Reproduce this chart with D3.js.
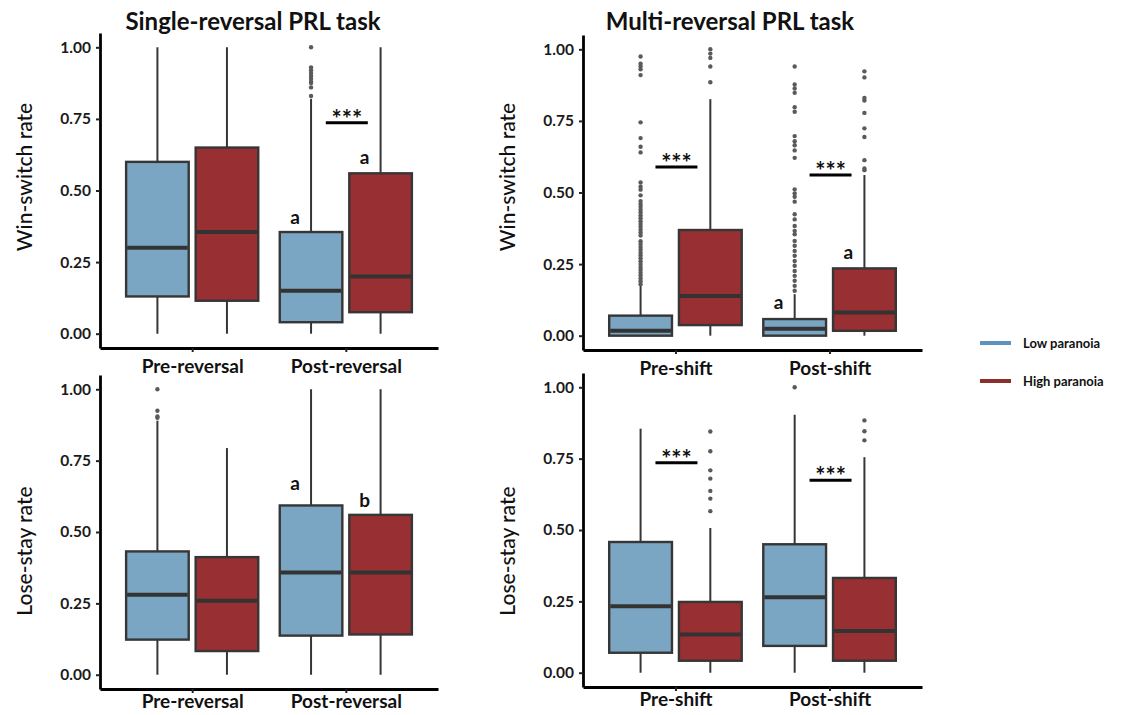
<!DOCTYPE html>
<html>
<head>
<meta charset="utf-8">
<script src="https://d3js.org/d3.v7.min.js"></script>
<style>
  body { margin: 0; background: #fff; }
  text { font-family: Lato, "Open Sans", sans-serif; }
</style>
</head>
<body>
<svg id="chart" width="1126" height="715"></svg>
<script>
// ---- data ----
const series = ["Low paranoia", "High paranoia"];
const singleGroups = ["Pre-reversal", "Post-reversal"];
const multiGroups = ["Pre-shift", "Post-shift"];
const yTicks = [0, 0.25, 0.5, 0.75, 1];

// stats = [whisker low, Q1, median, Q3, whisker high]
const winSwitchSingle = [
  { group: "Pre-reversal", series: "Low paranoia", stats: [0, 0.13, 0.30, 0.60, 1.00], outliers: [] },
  { group: "Pre-reversal", series: "High paranoia", stats: [0, 0.115, 0.355, 0.65, 1.00], outliers: [] },
  { group: "Post-reversal", series: "Low paranoia", stats: [0, 0.04, 0.15, 0.355, 0.82],
    outliers: [1.0, 0.93, 0.92, 0.91, 0.90, 0.89, 0.88, 0.875, 0.86, 0.83] },
  { group: "Post-reversal", series: "High paranoia", stats: [0, 0.075, 0.20, 0.56, 1.00], outliers: [] }
];
const winSwitchMulti = [
  { group: "Pre-shift", series: "Low paranoia", stats: [0, 0, 0.017, 0.07, 0.175],
    outliers: [0.975, 0.95, 0.94, 0.93, 0.91, 0.745, 0.69, 0.66, 0.64, 0.535, 0.52, 0.51, 0.49, 0.47, 0.46,
      0.45, 0.44, 0.43, 0.42, 0.41, 0.40, 0.39, 0.38, 0.37, 0.36, 0.35, 0.33, 0.32, 0.31, 0.30, 0.29,
      0.28, 0.27, 0.26, 0.25, 0.24, 0.23, 0.22, 0.21, 0.20, 0.19, 0.18] },
  { group: "Pre-shift", series: "High paranoia", stats: [0, 0.037, 0.139, 0.369, 0.826],
    outliers: [1.0, 0.985, 0.97, 0.94, 0.885] },
  { group: "Post-shift", series: "Low paranoia", stats: [0, 0, 0.024, 0.058, 0.145],
    outliers: [0.94, 0.877, 0.863, 0.848, 0.798, 0.782, 0.697, 0.679, 0.665, 0.647, 0.621, 0.511, 0.497,
      0.485, 0.468, 0.424, 0.406, 0.383, 0.366, 0.354, 0.331, 0.314, 0.296, 0.279, 0.261, 0.244, 0.226,
      0.209, 0.192, 0.174, 0.157] },
  { group: "Post-shift", series: "High paranoia", stats: [0, 0.017, 0.081, 0.235, 0.561],
    outliers: [0.923, 0.902, 0.83, 0.821, 0.778, 0.724, 0.694, 0.613, 0.584, 0.578] }
];
const loseStaySingle = [
  { group: "Pre-reversal", series: "Low paranoia", stats: [0, 0.123, 0.28, 0.432, 0.89],
    outliers: [1.0, 0.925, 0.905, 0.90] },
  { group: "Pre-reversal", series: "High paranoia", stats: [0, 0.083, 0.259, 0.412, 0.794], outliers: [] },
  { group: "Post-reversal", series: "Low paranoia", stats: [0, 0.137, 0.358, 0.593, 1.00], outliers: [] },
  { group: "Post-reversal", series: "High paranoia", stats: [0, 0.141, 0.358, 0.56, 1.00], outliers: [] }
];
const loseStayMulti = [
  { group: "Pre-shift", series: "Low paranoia", stats: [0, 0.07, 0.233, 0.458, 0.855], outliers: [] },
  { group: "Pre-shift", series: "High paranoia", stats: [0, 0.042, 0.134, 0.248, 0.507],
    outliers: [0.845, 0.776, 0.709, 0.68, 0.637, 0.61, 0.566] },
  { group: "Post-shift", series: "Low paranoia", stats: [0, 0.094, 0.264, 0.45, 0.904], outliers: [1.0] },
  { group: "Post-shift", series: "High paranoia", stats: [0, 0.042, 0.146, 0.332, 0.755],
    outliers: [0.884, 0.846, 0.814] }
];

// significance bars (*** between groups) and letter marks
const sigWinSwitchSingle = [{ group: "Post-reversal", y: 0.737 }];
const sigWinSwitchMulti = [{ group: "Pre-shift", y: 0.589 }, { group: "Post-shift", y: 0.561 }];
const sigLoseStaySingle = [];
const sigLoseStayMulti = [{ group: "Pre-shift", y: 0.736 }, { group: "Post-shift", y: 0.674 }];

const lettersWinSwitchSingle = [
  { group: "Post-reversal", series: "Low paranoia", y: 0.405, text: "a" },
  { group: "Post-reversal", series: "High paranoia", y: 0.615, text: "a" }
];
const lettersWinSwitchMulti = [
  { group: "Post-shift", series: "Low paranoia", y: 0.115, text: "a" },
  { group: "Post-shift", series: "High paranoia", y: 0.29, text: "a" }
];
const lettersLoseStaySingle = [
  { group: "Post-reversal", series: "Low paranoia", y: 0.671, text: "a" },
  { group: "Post-reversal", series: "High paranoia", y: 0.612, text: "b" }
];
const lettersLoseStayMulti = [];

const fills = { "Low paranoia": "#7ba6c3", "High paranoia": "#982f33" };
const legendColors = { "Low paranoia": "#5d93bc", "High paranoia": "#8c2e2c" };

// ---- layout ----
const svg = d3.select('#chart');
svg.append('rect').attr('width', 1126).attr('height', 715).attr('fill', '#fff');

const panels = [
  { data: winSwitchSingle, sig: sigWinSwitchSingle, letters: lettersWinSwitchSingle, groups: singleGroups,
    x0: 100, x1: 438, top: 33, bottom: 348, ylabel: "Win-switch rate", ylabelY: 177,
    title: "Single-reversal PRL task", titleX: 253, labelPad: 8 },
  { data: winSwitchMulti, sig: sigWinSwitchMulti, letters: lettersWinSwitchMulti, groups: multiGroups,
    x0: 583, x1: 922, top: 35, bottom: 350, ylabel: "Win-switch rate", ylabelY: 177,
    title: "Multi-reversal PRL task", titleX: 730, labelPad: 8 },
  { data: loseStaySingle, sig: sigLoseStaySingle, letters: lettersLoseStaySingle, groups: singleGroups,
    x0: 100, x1: 438, top: 375, bottom: 689, ylabel: "Lose-stay rate", ylabelY: 551, labelPad: 1 },
  { data: loseStayMulti, sig: sigLoseStayMulti, letters: lettersLoseStayMulti, groups: multiGroups,
    x0: 583, x1: 922, top: 373, bottom: 687, ylabel: "Lose-stay rate", ylabelY: 551, labelPad: 2 }
];

panels.forEach(drawPanel);

function drawPanel(p) {
  const g = svg.append('g');
  const x = d3.scalePoint().domain(p.groups).range([p.x0, p.x1]).padding(0.6);
  const step = x.step();
  const dodge = d3.scaleBand().domain(series).range([-0.43 * step, 0.43 * step]).paddingInner(0.1);
  const y = d3.scaleLinear().domain([-0.05, 1.05]).range([p.bottom, p.top]);
  const bw = dodge.bandwidth();
  const cx = d => x(d.group) + dodge(d.series) + bw / 2;

  // whiskers
  g.selectAll('.whisker').data(p.data).join('line')
    .attr('x1', cx).attr('x2', cx)
    .attr('y1', d => y(d.stats[0])).attr('y2', d => y(d.stats[4]))
    .attr('stroke', '#363636').attr('stroke-width', 2);

  // outliers
  p.data.forEach(d => {
    g.selectAll(null).data(d.outliers).join('circle')
      .attr('cx', cx(d)).attr('cy', v => y(v)).attr('r', 2.2)
      .attr('fill', '#5a5a5a');
  });

  // boxes
  g.selectAll('.box').data(p.data).join('rect')
    .attr('x', d => cx(d) - bw / 2).attr('width', bw)
    .attr('y', d => y(d.stats[3]))
    .attr('height', d => y(d.stats[1]) - y(d.stats[3]))
    .attr('fill', d => fills[d.series])
    .attr('stroke', '#363636').attr('stroke-width', 2.4);

  // medians
  g.selectAll('.median').data(p.data).join('line')
    .attr('x1', d => cx(d) - bw / 2 + 1).attr('x2', d => cx(d) + bw / 2 - 1)
    .attr('y1', d => y(d.stats[2])).attr('y2', d => y(d.stats[2]))
    .attr('stroke', '#333').attr('stroke-width', 4);

  // significance bars
  p.sig.forEach(s => {
    const c = x(s.group) + 1;
    g.append('line')
      .attr('x1', c - 21).attr('x2', c + 21)
      .attr('y1', y(s.y)).attr('y2', y(s.y))
      .attr('stroke', '#000').attr('stroke-width', 3);
    g.append('text')
      .attr('x', c).attr('y', y(s.y) + 5)
      .attr('text-anchor', 'middle')
      .attr('font-size', 24).attr('font-weight', 'bold')
      .attr('fill', '#111')
      .text('***');
  });

  // letters
  g.selectAll('.letter').data(p.letters).join('text')
    .attr('x', d => cx(d) - 16).attr('y', d => y(d.y))
    .attr('dy', '0.35em')
    .attr('text-anchor', 'middle')
    .attr('font-size', 19).attr('font-weight', 'bold')
    .attr('fill', '#111')
    .text(d => d.text);

  // axes
  const yAxis = g.append('g')
    .attr('transform', `translate(${p.x0},0)`)
    .call(d3.axisLeft(y).tickValues(yTicks).tickFormat(d3.format('.2f')).tickSize(4).tickSizeOuter(0).tickPadding(5));
  const xAxis = g.append('g')
    .attr('transform', `translate(0,${p.bottom})`)
    .call(d3.axisBottom(x).tickSize(4).tickSizeOuter(0).tickPadding(p.labelPad));
  [yAxis, xAxis].forEach(a => {
    a.select('.domain').attr('stroke', '#000').attr('stroke-width', 2.8);
    a.selectAll('.tick line').attr('stroke', '#222').attr('stroke-width', 2);
  });
  yAxis.selectAll('.tick text')
    .attr('font-size', 15.5).attr('font-weight', 'bold').attr('fill', '#1a1a1a')
    .attr('font-family', 'Lato, sans-serif');
  xAxis.selectAll('.tick text')
    .attr('font-size', 19).attr('font-weight', 'bold').attr('fill', '#111')
    .attr('font-family', 'Lato, sans-serif');

  // y label
  g.append('text')
    .attr('transform', `translate(${p.x0 - 75},${p.ylabelY}) rotate(-90)`)
    .attr('text-anchor', 'middle')
    .attr('dy', '0.35em')
    .attr('font-family', '"Open Sans", sans-serif')
    .attr('font-size', 21).attr('font-weight', 500).attr('fill', '#111')
    .text(p.ylabel);

  if (p.title) {
    g.append('text')
      .attr('x', p.titleX)
      .attr('y', 30)
      .attr('text-anchor', 'middle')
      .attr('font-size', 24).attr('font-weight', 'bold').attr('fill', '#111')
      .text(p.title);
  }
}

// legend
const legend = svg.append('g').attr('transform', 'translate(980,343)');
series.forEach((s, i) => {
  legend.append('line')
    .attr('x1', 0).attr('x2', 31).attr('y1', i * 38).attr('y2', i * 38)
    .attr('stroke', legendColors[s]).attr('stroke-width', 4);
  legend.append('text')
    .attr('x', 43).attr('y', i * 38).attr('dy', '0.35em')
    .attr('font-size', 13).attr('font-weight', 'bold').attr('fill', '#111')
    .text(s);
});
</script>
</body>
</html>
